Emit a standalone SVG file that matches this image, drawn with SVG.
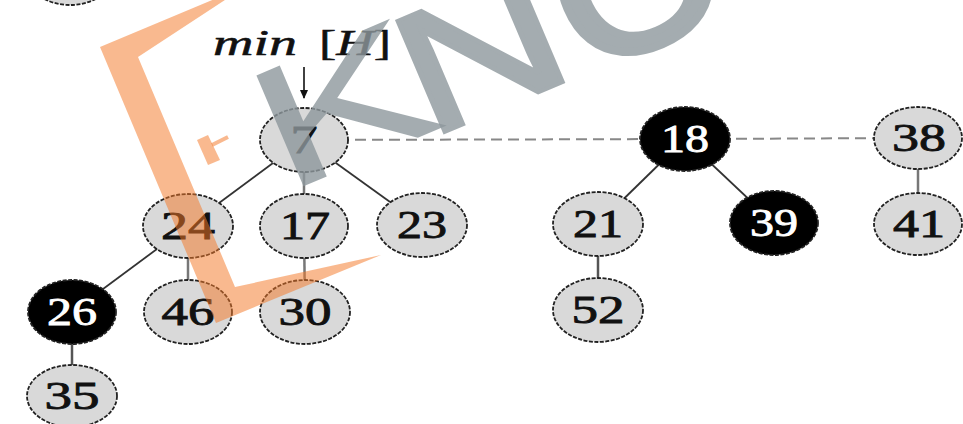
<svg xmlns="http://www.w3.org/2000/svg" width="963" height="424" viewBox="0 0 963 424">
<style>
.node ellipse{stroke:#222;stroke-width:1.8;stroke-dasharray:4 1.5}
.g ellipse{fill:#d9d9d9}
.b ellipse{fill:#000}
.node text{font-family:"Liberation Serif","Times New Roman",serif;font-size:41px;text-anchor:middle;stroke-width:0.9}
.g text{fill:#111;stroke:#111}
.b text{fill:#fff;stroke:#fff}
.edge{stroke:#333;stroke-width:1.8}
.vedge{stroke:#777;stroke-width:2.5}
.root{stroke:#888;stroke-width:2;stroke-dasharray:11 6}
.lab{font-family:"Liberation Serif","Times New Roman",serif;font-size:36px;fill:#111;stroke:#111;stroke-width:0.5}
.wm{font-family:"Liberation Sans",Arial,sans-serif;fill:#8e989d;stroke:#8e989d;opacity:0.8}
.or{fill:#f47828;opacity:0.52}
</style>
<defs>
<marker id="ah" markerWidth="10" markerHeight="10" refX="8" refY="5" orient="auto" markerUnits="userSpaceOnUse">
<path d="M0,1 L9,5 L0,9 Z" fill="#111"/>
</marker>
</defs>
<rect width="963" height="424" fill="#fff"/>

<g id="connectors">
<line class="root" x1="304" y1="140" x2="685" y2="139"/>
<line class="root" x1="685" y1="139" x2="918" y2="138"/>
<line class="edge" x1="304" y1="140" x2="188" y2="226"/>
<line class="vedge" x1="304" y1="140" x2="304" y2="226"/>
<line class="edge" x1="304" y1="140" x2="422" y2="225"/>
<line class="edge" x1="188" y1="226" x2="72" y2="312"/>
<line class="vedge" x1="188" y1="226" x2="188" y2="312"/>
<line class="vedge" x1="304" y1="226" x2="305" y2="312"/>
<line class="vedge" x1="72" y1="312" x2="72" y2="396" style="stroke:#555"/>
<line class="edge" x1="685" y1="139" x2="598" y2="224"/>
<line class="edge" x1="685" y1="139" x2="774" y2="223"/>
<line class="vedge" x1="598" y1="224" x2="598" y2="310" style="stroke:#555"/>
<line class="vedge" x1="918" y1="138" x2="918" y2="224"/>
<line x1="304" y1="67" x2="304" y2="98" stroke="#111" stroke-width="1.6" marker-end="url(#ah)"/>
</g>

<g id="label-min">
<text class="lab" x="213" y="55" font-style="italic" textLength="84" lengthAdjust="spacingAndGlyphs">min</text>
<text class="lab" x="319" y="55" textLength="72" lengthAdjust="spacingAndGlyphs">[<tspan font-style="italic">H</tspan>]</text>
</g>

<g id="n-top" class="node g"><ellipse cx="70" cy="-27" rx="44" ry="32"/></g>
<g id="n7" class="node g"><ellipse cx="304" cy="140" rx="44" ry="32"/><text x="304" y="153" textLength="27" lengthAdjust="spacingAndGlyphs">7</text></g>
<g id="n24" class="node g"><ellipse cx="188" cy="226" rx="45" ry="32"/><text x="188" y="239" textLength="54" lengthAdjust="spacingAndGlyphs">24</text></g>
<g id="n17" class="node g"><ellipse cx="304" cy="226" rx="44" ry="32"/><text x="305" y="239" textLength="50" lengthAdjust="spacingAndGlyphs">17</text></g>
<g id="n23" class="node g"><ellipse cx="422" cy="225" rx="45" ry="32"/><text x="422" y="238" textLength="50" lengthAdjust="spacingAndGlyphs">23</text></g>
<g id="n26" class="node b"><ellipse cx="72" cy="312" rx="44" ry="32"/><text x="72" y="325" textLength="50" lengthAdjust="spacingAndGlyphs">26</text></g>
<g id="n46" class="node g"><ellipse cx="188" cy="312" rx="44" ry="32"/><text x="188" y="325" textLength="53" lengthAdjust="spacingAndGlyphs">46</text></g>
<g id="n30" class="node g"><ellipse cx="305" cy="312" rx="45" ry="32"/><text x="305" y="325" textLength="53" lengthAdjust="spacingAndGlyphs">30</text></g>
<g id="n35" class="node g"><ellipse cx="72" cy="396" rx="45" ry="31"/><text x="72" y="409" textLength="55" lengthAdjust="spacingAndGlyphs">35</text></g>
<g id="n18" class="node b"><ellipse cx="685" cy="139" rx="45" ry="32"/><text x="685" y="152" textLength="48" lengthAdjust="spacingAndGlyphs">18</text></g>
<g id="n21" class="node g"><ellipse cx="598" cy="224" rx="45" ry="32"/><text x="598" y="237" textLength="50" lengthAdjust="spacingAndGlyphs">21</text></g>
<g id="n39" class="node b"><ellipse cx="774" cy="223" rx="44" ry="32"/><text x="774" y="236" textLength="48" lengthAdjust="spacingAndGlyphs">39</text></g>
<g id="n52" class="node g"><ellipse cx="598" cy="310" rx="45" ry="32"/><text x="598" y="323" textLength="53" lengthAdjust="spacingAndGlyphs">52</text></g>
<g id="n38" class="node g"><ellipse cx="918" cy="138" rx="44" ry="31"/><text x="919" y="151" textLength="54" lengthAdjust="spacingAndGlyphs">38</text></g>
<g id="n41" class="node g"><ellipse cx="918" cy="224" rx="44" ry="31"/><text x="919" y="237" textLength="52" lengthAdjust="spacingAndGlyphs">41</text></g>

<g id="watermark">
<polygon class="or" points="217,-2 100,47 216,323 381,255 235,287 138,57 228,-2"/>
<polygon class="or" points="197,140 208,135 220,160 208,165"/>
<line x1="212" y1="145" x2="228" y2="137" stroke="#f47828" stroke-width="4" opacity="0.52"/>
<text class="wm" x="0" y="0" font-size="175" stroke-width="0" transform="translate(283 195) rotate(-23) scale(1.55 1)">K</text>
<text class="wm" x="0" y="0" font-size="175" stroke-width="4" transform="translate(428 139) rotate(-23) scale(1.3 1)">N</text>
<text class="wm" x="0" y="0" font-size="195" stroke-width="8" transform="translate(585 75) rotate(-23) scale(1.1 1)">O</text>
</g>
</svg>
